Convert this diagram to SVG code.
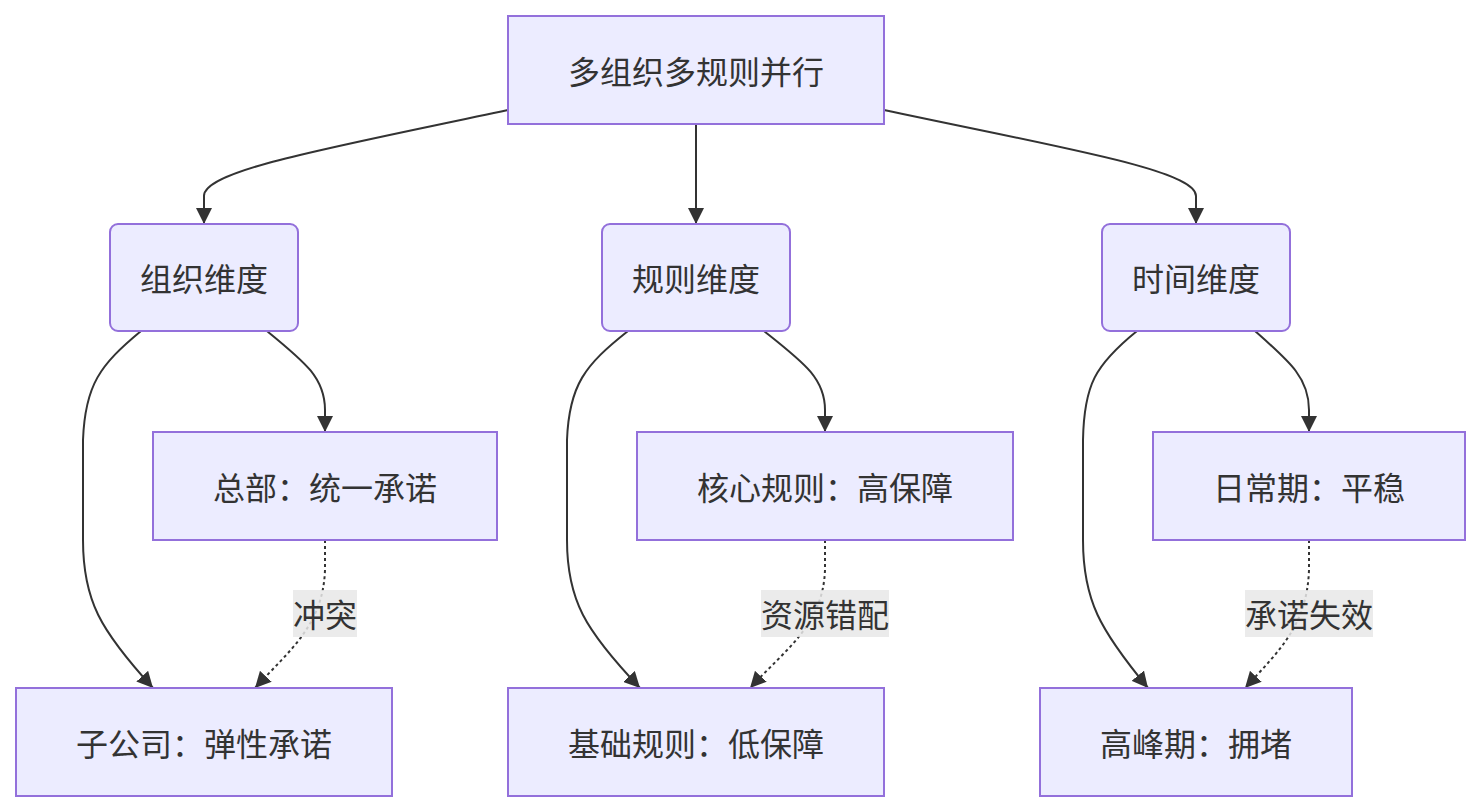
<svg xmlns="http://www.w3.org/2000/svg" width="1481" height="812" viewBox="0 0 1481 812">
<defs>
<marker id="arr" viewBox="0 0 10 10" refX="10" refY="5" markerUnits="userSpaceOnUse" markerWidth="16" markerHeight="16" orient="auto">
<path d="M0,0 L10,5 L0,10 z" fill="#333333"/>
</marker>
<style>
.node rect{fill:#ECECFF;stroke:#9370DB;stroke-width:2}
.node text,.lbl text{font-family:"Noto Sans CJK SC","Noto Sans",sans-serif;font-size:32px;fill:#333333;text-anchor:middle;dominant-baseline:central}
.edge{fill:none;stroke:#333333;stroke-width:2;marker-end:url(#arr)}
.dot{stroke-dasharray:3 3}
.lbl rect{fill:#e8e8e8;opacity:0.85}
</style>
</defs>
<rect width="1481" height="812" fill="#ffffff"/>
<g id="connectors">
<path class="edge" d="M508,110 C330,148 204,170 204,196 L204,224"/>
<path class="edge" d="M696,124 L696,224"/>
<path class="edge" d="M884,110 C1062,148 1196,170 1196,196 L1196,224"/>
<path class="edge" d="M141,331 C100,365 85,385 83,440 L83,540 C83,600 100,630 153,688"/>
<path class="edge" d="M267,331 C305,362 325,378 325,410 L325,432"/>
<path class="edge dot" d="M325,540 L325,570 C323,625 290,650 255,688"/>
<path class="edge" d="M628,331 C585,365 569,385 567,440 L567,540 C567,600 585,630 640,688"/>
<path class="edge" d="M764,331 C803,362 825,378 825,410 L825,432"/>
<path class="edge dot" d="M825,540 L825,570 C823,625 785,650 750,688"/>
<path class="edge" d="M1137,331 C1095,365 1084,385 1083,440 L1083,540 C1083,600 1100,630 1148,688"/>
<path class="edge" d="M1255,331 C1290,362 1309,378 1309,410 L1309,432"/>
<path class="edge dot" d="M1309,540 L1309,570 C1307,625 1280,650 1245,688"/>
</g>
<g id="label-conflict" class="lbl"><rect x="293" y="590" width="64" height="47"/><text x="325" y="613">冲突</text></g>
<g id="label-mismatch" class="lbl"><rect x="761" y="590" width="128" height="47"/><text x="825" y="613">资源错配</text></g>
<g id="label-fail" class="lbl"><rect x="1245" y="590" width="128" height="47"/><text x="1309" y="613">承诺失效</text></g>
<g id="n-root" class="node"><rect x="508" y="16" width="376" height="108"/><text x="696" y="70">多组织多规则并行</text></g>
<g id="n-org" class="node"><rect x="110" y="224" width="188" height="107" rx="8" ry="8"/><text x="204" y="277">组织维度</text></g>
<g id="n-rule" class="node"><rect x="602" y="224" width="188" height="107" rx="8" ry="8"/><text x="696" y="277">规则维度</text></g>
<g id="n-time" class="node"><rect x="1102" y="224" width="188" height="107" rx="8" ry="8"/><text x="1196" y="277">时间维度</text></g>
<g id="n-hq" class="node"><rect x="153" y="432" width="344" height="108"/><text x="325" y="486">总部：统一承诺</text></g>
<g id="n-core" class="node"><rect x="637" y="432" width="376" height="108"/><text x="825" y="486">核心规则：高保障</text></g>
<g id="n-daily" class="node"><rect x="1153" y="432" width="312" height="108"/><text x="1309" y="486">日常期：平稳</text></g>
<g id="n-sub" class="node"><rect x="16" y="688" width="376" height="108"/><text x="204" y="742">子公司：弹性承诺</text></g>
<g id="n-basic" class="node"><rect x="508" y="688" width="376" height="108"/><text x="696" y="742">基础规则：低保障</text></g>
<g id="n-peak" class="node"><rect x="1040" y="688" width="312" height="108"/><text x="1196" y="742">高峰期：拥堵</text></g>
</svg>
